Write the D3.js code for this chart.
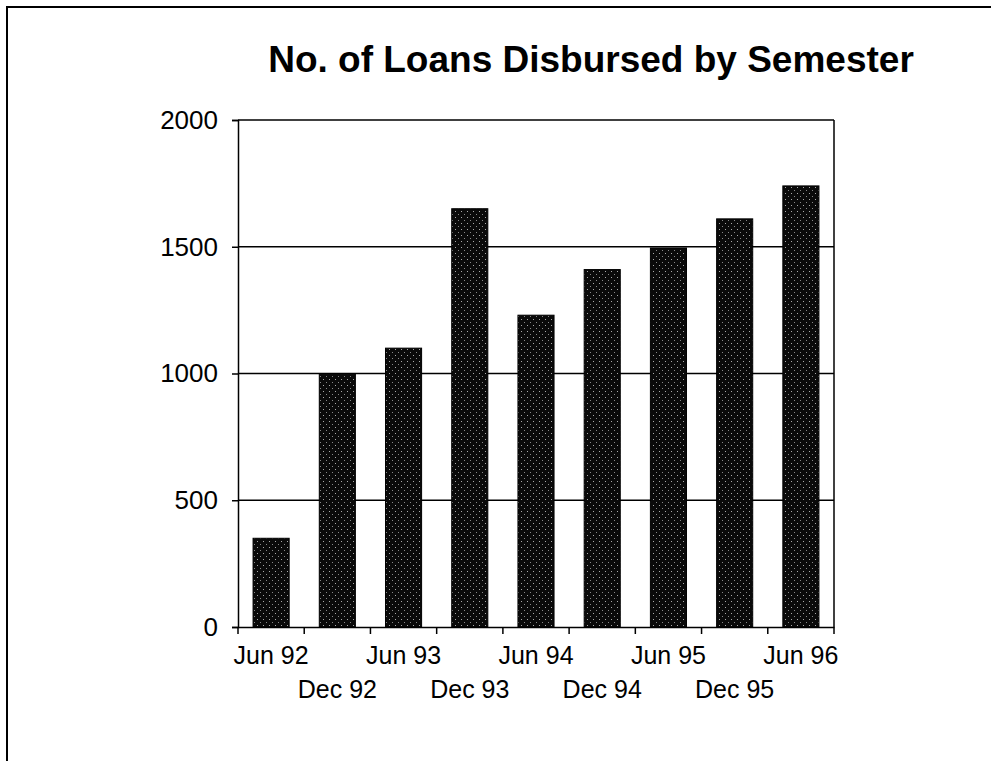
<!DOCTYPE html>
<html>
<head>
<meta charset="utf-8">
<script src="https://cdn.jsdelivr.net/npm/d3@7"></script>
<style>
  body { margin: 0; background: #fff; }
  text { font-family: Arial, "Liberation Sans", sans-serif; fill: #000; }
</style>
</head>
<body>
<svg id="chart" width="991" height="761"></svg>
<script>
// data
var semesters = ["Jun 92", "Dec 92", "Jun 93", "Dec 93", "Jun 94", "Dec 94", "Jun 95", "Dec 95", "Jun 96"];
var loans = [350, 1000, 1100, 1650, 1230, 1410, 1495, 1610, 1740];
var yTicks = [0, 500, 1000, 1500, 2000];

var svg = d3.select("#chart"),
    margin = {top: 120, right: 157, bottom: 134, left: 238},
    width = +svg.attr("width") - margin.left - margin.right,
    height = +svg.attr("height") - margin.top - margin.bottom;

// pattern for the stippled bars
var pat = svg.append("defs").append("pattern")
    .attr("id", "stipple")
    .attr("patternUnits", "userSpaceOnUse")
    .attr("width", 6).attr("height", 6);
pat.append("rect").attr("width", 6).attr("height", 6).attr("fill", "#0a0a0a");
pat.append("rect").attr("x", 1).attr("y", 1).attr("width", 1).attr("height", 1).attr("fill", "#aaa");
pat.append("rect").attr("x", 4).attr("y", 4).attr("width", 1).attr("height", 1).attr("fill", "#888");

// outer frame (only top and left edges show)
svg.append("path")
    .attr("d", "M7,761V7H991")
    .attr("fill", "none")
    .attr("stroke", "#000")
    .attr("stroke-width", 2);

svg.append("text")
    .attr("x", 591)
    .attr("y", 72)
    .attr("text-anchor", "middle")
    .style("font-size", "37px")
    .style("font-weight", "bold")
    .text("No. of Loans Disbursed by Semester");

var g = svg.append("g").attr("transform", "translate(" + margin.left + "," + margin.top + ")");

var x = d3.scaleBand()
    .domain(semesters)
    .range([0, width])
    .paddingInner(0.455)
    .paddingOuter(0.2275);

var y = d3.scaleLinear()
    .domain([0, 2000])
    .range([height, 0]);

// gridlines
g.append("g")
  .selectAll("line")
  .data(yTicks.slice(1))
  .enter().append("line")
    .attr("x1", 0).attr("x2", width)
    .attr("y1", function(d) { return y(d); })
    .attr("y2", function(d) { return y(d); })
    .attr("stroke", "#000")
    .attr("stroke-width", 1.5);

// right edge of plot
g.append("line")
    .attr("x1", width).attr("x2", width)
    .attr("y1", 0).attr("y2", height)
    .attr("stroke", "#000")
    .attr("stroke-width", 1.5);

g.selectAll(".bar")
  .data(loans)
  .enter().append("rect")
    .attr("class", "bar")
    .attr("x", function(d, i) { return x(semesters[i]); })
    .attr("width", x.bandwidth())
    .attr("y", function(d) { return y(d); })
    .attr("height", function(d) { return height - y(d); })
    .attr("fill", "url(#stipple)")
    .attr("stroke", "#000")
    .attr("stroke-width", 1);

// y axis
var yAxis = g.append("g")
    .call(d3.axisLeft(y).tickValues(yTicks).tickFormat(d3.format("d")).tickSize(6).tickPadding(14));
yAxis.select(".domain").attr("stroke-width", 1.5);
yAxis.selectAll(".tick line").attr("stroke-width", 1.5);
yAxis.selectAll("text").style("font-size", "26px").attr("font-family", null);

// x axis: labels at categories, ticks between them
var xAxis = g.append("g")
    .attr("transform", "translate(0," + height + ")")
    .call(d3.axisBottom(x).tickSize(0).tickPadding(0));
xAxis.select(".domain").attr("stroke-width", 1.5);
xAxis.selectAll("text")
    .style("font-size", "25px")
    .attr("font-family", null)
    .attr("y", function(d, i) { return i % 2 === 0 ? 37 : 71; })
    .attr("dy", null);

var bounds = d3.range(semesters.length + 1).map(function(i) { return i * x.step(); });
xAxis.append("g")
  .selectAll("line")
  .data(bounds)
  .enter().append("line")
    .attr("x1", function(d) { return d; })
    .attr("x2", function(d) { return d; })
    .attr("y1", 0).attr("y2", 7)
    .attr("stroke", "#000")
    .attr("stroke-width", 1.5);
</script>
</body>
</html>
